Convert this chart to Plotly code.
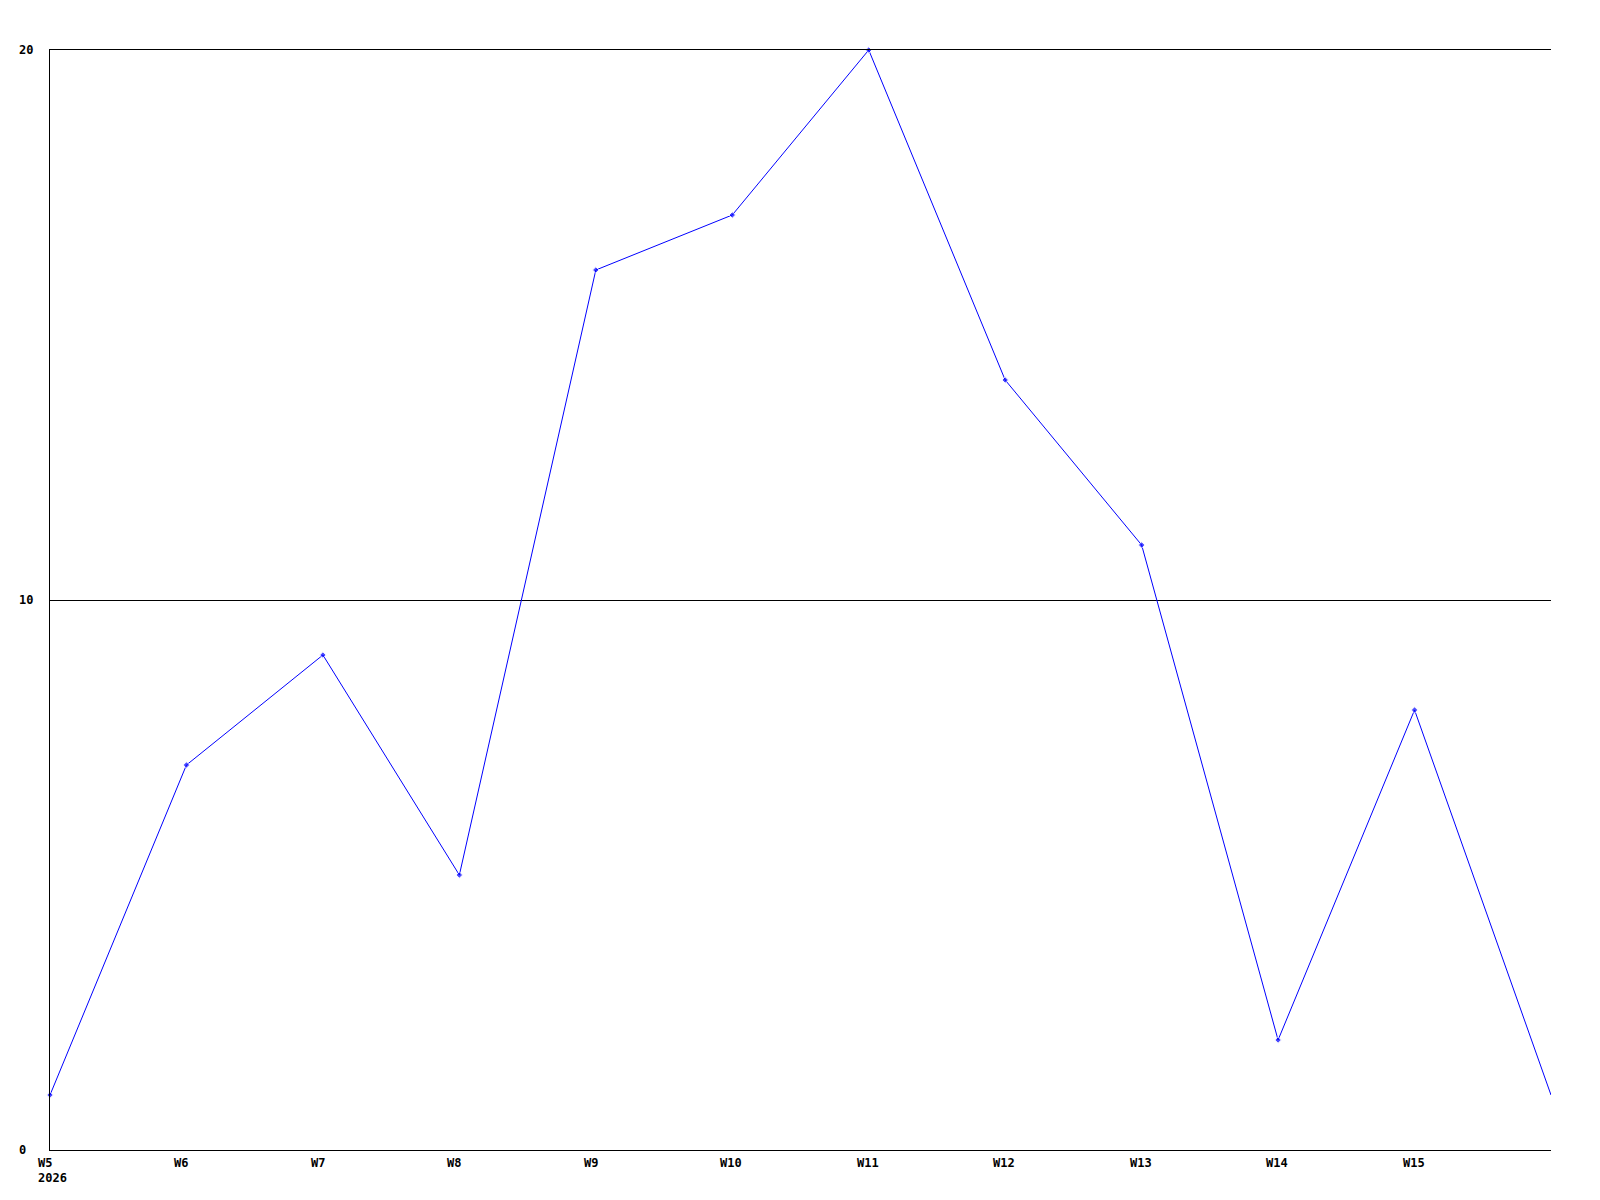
import plotly.graph_objects as go

weeks = ["W5", "W6", "W7", "W8", "W9", "W10", "W11", "W12", "W13", "W14", "W15", ""]
values = [1, 7, 9, 5, 16, 17, 20, 14, 11, 2, 8, 1]
x_pos = list(range(len(values)))
y_ticks = [0, 10, 20]
year_label = "2026"

FONT = dict(family="DejaVu Sans Mono", size=12, color="black")

marker_sizes = [5 if w else 0 for w in weeks]

fig = go.Figure()
fig.add_trace(go.Scatter(
    x=x_pos, y=values, mode="lines+markers",
    line=dict(color="#0000ff", width=1),
    marker=dict(symbol="diamond", size=marker_sizes, color="#0000ff"),
    cliponaxis=False, hoverinfo="skip", showlegend=False,
))

annotations = []
for xi, w in zip(x_pos, weeks):
    if w:
        annotations.append(dict(x=xi, y=0, xref="x", yref="y", text="<b>%s</b>" % w,
                                showarrow=False, xanchor="left", yanchor="middle",
                                xshift=-13, yshift=-13, font=FONT, borderpad=0))
annotations.append(dict(x=0, y=0, xref="x", yref="y", text="<b>%s</b>" % year_label,
                        showarrow=False, xanchor="left", yanchor="middle",
                        xshift=-13, yshift=-28, font=FONT, borderpad=0))
for t in y_ticks:
    annotations.append(dict(x=0, y=t, xref="paper", yref="y", text="<b>%d</b>" % t,
                            showarrow=False, xanchor="left", yanchor="middle",
                            xshift=-32, font=FONT, borderpad=0))

fig.update_layout(
    width=1600, height=1200,
    margin=dict(l=42, r=57, t=42, b=58),
    paper_bgcolor="white", plot_bgcolor="white",
    annotations=annotations,
    xaxis=dict(range=[0, 11], showgrid=False, zeroline=False, showticklabels=False,
               ticks="", showline=True, linecolor="black", linewidth=1, mirror=True,
               fixedrange=True),
    yaxis=dict(range=[0, 20], tickvals=y_ticks, showgrid=True, gridcolor="black",
               gridwidth=1, zeroline=False, showticklabels=False, ticks="",
               showline=True, linecolor="black", linewidth=1, fixedrange=True),
)

fig.write_html("out.html")
